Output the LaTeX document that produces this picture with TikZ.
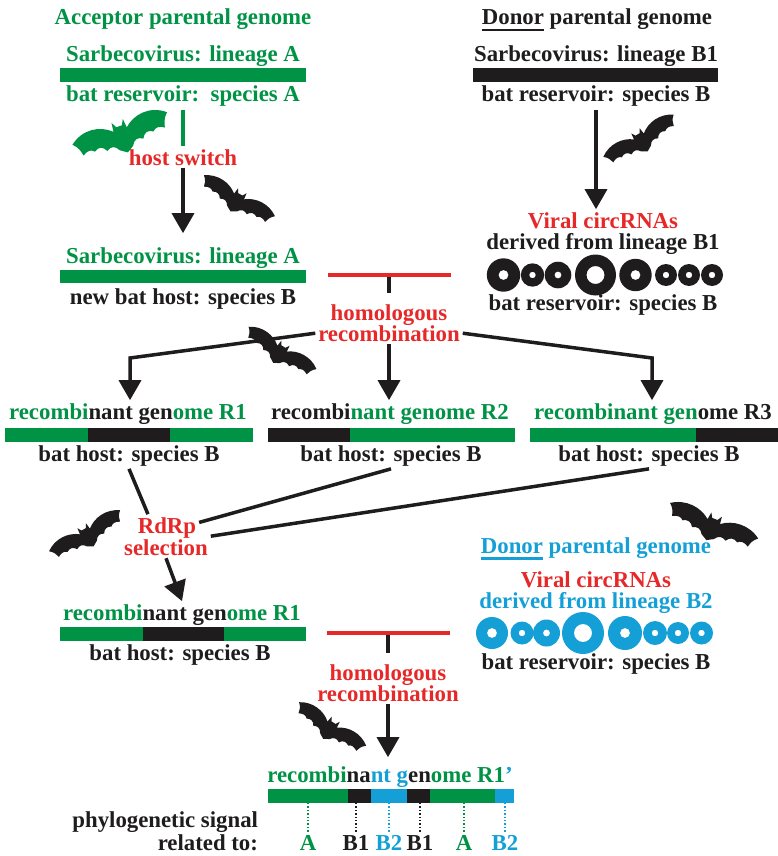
\documentclass[tikz,border=0pt]{standalone}
\usepackage{fontspec}
\setmainfont{Liberation Serif}
\usetikzlibrary{arrows.meta}
\definecolor{accgreen}{RGB}{0,146,69}
\definecolor{hrred}{RGB}{230,40,40}
\definecolor{donblue}{RGB}{20,160,214}
\definecolor{ink}{RGB}{30,28,29}
\newsavebox{\ulbox}
\newcommand{\heavyul}[1]{\sbox\ulbox{#1}\rlap{\rule[-6.5pt]{\wd\ulbox}{2.8pt}}\usebox\ulbox}
\tikzset{
    every node/.style={anchor=base,inner sep=0pt,outer sep=3pt,text=ink,font=\bfseries\fontsize{22.8}{22}\selectfont,},
    link/.style={draw=ink,line width=3.5pt,},
    arrow/.style={link,-{Triangle[width=22pt,length=20pt]},},
    cut/.style={fill=hrred,minimum width=123pt,minimum height=4pt,outer sep=0pt,anchor=center,},
    ring/.style={fill=ink,even odd rule,},
    sig/.style={line width=1.4pt,dotted,},
    bat/.pic={
        \path[pic actions] (-50,-6) .. controls (-36,-16) and (-18,-14) .. (-7,-5)
            -- (-6,-13) -- (-3,-8) -- (3,-8) -- (6,-13) -- (7,-5)
            .. controls (18,-14) and (36,-16) .. (50,-6)
            .. controls (45,-2) and (44,2) .. (43,6)
            .. controls (38,3) and (34,3) .. (31,6)
            .. controls (26,3) and (22,4) .. (19,9)
            .. controls (14,6) and (10,7) .. (7,12)
            -- (0,16) -- (-7,12)
            .. controls (-10,7) and (-14,6) .. (-19,9)
            .. controls (-22,4) and (-26,3) .. (-31,6)
            .. controls (-34,3) and (-38,3) .. (-43,6)
            .. controls (-44,2) and (-45,-2) .. (-50,-6) -- cycle;
    },
}

\begin{document}
\begin{tikzpicture}[x=1pt,y=-1pt]
        \useasboundingbox (0,0) rectangle (778,856);

        \node[text=accgreen] (acc_title) at (183,25) {Acceptor parental genome};
        \node[text=accgreen] (lin_a) at (183,62) {Sarbecovirus: lineage A};
        \fill[accgreen] (60,68) rectangle (306,82);
        \node[text=accgreen] (res_a) at (183,102) {bat reservoir:\ \ species A};
        \node[text=hrred] (host_switch) at (183,165) {host switch};
        \node[text=accgreen] (lin_a2) at (183,263) {Sarbecovirus: lineage A};
        \fill[accgreen] (60,270) rectangle (306,283);
        \node (host_b) at (183,304) {new bat host: species B};

        \draw[link,draw=accgreen] (res_a) -- (host_switch);
        \draw[arrow,shorten >=11pt] (host_switch) -- (lin_a2);
        \pic[fill=accgreen,rotate=19,yscale=1.15] (bat_acc) at (122,135) {bat};
        \pic[fill=ink,rotate=-30,scale=0.82] (bat_switch) at (237,200) {bat};

        \node (don_title) at (597,25) {\heavyul{Donor} parental genome};
        \node (lin_b1) at (596,62) {Sarbecovirus: lineage B1};
        \fill[ink] (473,68) rectangle (718,82);
        \node (res_b) at (596,102) {bat reservoir: species B};
        \node[text=hrred] (circ_b1) at (603,228) {Viral circRNAs};
        \node (der_b1) at (603,249) {derived from lineage B1};
        \fill[ring] (503.5,275) circle[radius=16.7pt] circle[radius=5pt];
        \fill[ring] (532.5,275) circle[radius=11.7pt] circle[radius=3.3pt];
        \fill[ring] (558,275) circle[radius=13.3pt] circle[radius=3.5pt];
        \fill[ring] (595.5,275) circle[radius=20.5pt] circle[radius=9pt];
        \fill[ring] (635.5,275) circle[radius=16.2pt] circle[radius=5pt];
        \fill[ring] (666,275) circle[radius=11pt] circle[radius=3.3pt];
        \fill[ring] (689,275) circle[radius=11pt] circle[radius=3.3pt];
        \fill[ring] (712,275) circle[radius=11pt] circle[radius=3.3pt];
        \node (res_b1) at (603,310) {bat reservoir: species B};

        \draw[arrow] (res_b) -- (res_b |- circ_b1.north);
        \pic[fill=ink,rotate=31,scale=0.82] (bat_donor) at (641,140) {bat};

        \node[cut] (cut1) at (389,275) {};
        \node[text=hrred] (hr1_a) at (389,320) {homologous};
        \node[text=hrred] (hr1_b) at (389,341) {recombination};
        \draw[link,shorten >=8pt] (cut1) -- (hr1_a);

        \coordinate (split_l) at (130,358);
        \coordinate (split_r) at (652,358);
        \node (rec_r1) at (128,419) {\textcolor{accgreen}{recombi}nant gen\textcolor{accgreen}{ome R1}};
        \node (rec_r2) at (390,419) {recombi\textcolor{accgreen}{nant genome R2}};
        \node (rec_r3) at (653,419) {\textcolor{accgreen}{recombinant gen}ome R3};

        \draw[arrow] (hr1_b.west) -- (split_l) -- (split_l |- rec_r1.north);
        \draw[arrow] (hr1_b) -- (hr1_b |- rec_r2.north);
        \draw[arrow] (hr1_b.east) -- (split_r) -- (split_r |- rec_r3.north);
        \pic[fill=ink,rotate=-32,scale=0.8] (bat_split) at (280,352) {bat};

        \fill[accgreen] (5,428) rectangle (88,442);
        \fill[ink] (88,428) rectangle (170,442);
        \fill[accgreen] (170,428) rectangle (253,442);
        \fill[ink] (268,428) rectangle (350,442);
        \fill[accgreen] (350,428) rectangle (515,442);
        \fill[accgreen] (530,428) rectangle (696,442);
        \fill[ink] (696,428) rectangle (778,442);

        \node (hb_r1) at (129,461) {bat host: species B};
        \node (hb_r2) at (391,461) {bat host: species B};
        \node (hb_r3) at (649,461) {bat host: species B};

        \node[text=hrred] (rdrp) at (167,533) {RdRp};
        \node[text=hrred] (sel) at (166,555) {selection};
        \draw[link] (hb_r1.south) -- (rdrp.145);
        \draw[link] (hb_r2.south) -- (rdrp.9);
        \draw[link] (hb_r3.south) -- (sel.north east);
        \pic[fill=ink,rotate=30,scale=0.82] (bat_sel) at (87,535) {bat};

        \node (rec_r1b) at (182,620) {\textcolor{accgreen}{recombi}nant gen\textcolor{accgreen}{ome R1}};
        \fill[accgreen] (60,627) rectangle (143,641);
        \fill[ink] (143,627) rectangle (224,641);
        \fill[accgreen] (224,627) rectangle (306,641);
        \node (hb_r1b) at (180,660) {bat host: species B};
        \draw[arrow] (sel.south) -- (rec_r1b.north);

        \node[text=donblue] (don2_title) at (596,553) {\heavyul{Donor} parental genome};
        \node[text=hrred] (circ_b2) at (596,587) {Viral circRNAs};
        \node[text=donblue] (der_b2) at (596,608) {derived from lineage B2};
        \fill[ring,fill=donblue] (492,633) circle[radius=16pt] circle[radius=5pt];
        \fill[ring,fill=donblue] (522,633) circle[radius=11.5pt] circle[radius=3.3pt];
        \fill[ring,fill=donblue] (546.5,633) circle[radius=13.5pt] circle[radius=3.5pt];
        \fill[ring,fill=donblue] (583,633) circle[radius=21pt] circle[radius=9pt];
        \fill[ring,fill=donblue] (625,633) circle[radius=17pt] circle[radius=5pt];
        \fill[ring,fill=donblue] (655,633) circle[radius=12pt] circle[radius=3.3pt];
        \fill[ring,fill=donblue] (678,633) circle[radius=11pt] circle[radius=3.3pt];
        \fill[ring,fill=donblue] (701.5,633) circle[radius=11.5pt] circle[radius=3.3pt];
        \node (res_b2) at (596,669) {bat reservoir: species B};
        \pic[fill=ink,rotate=-22,scale=0.95] (bat_donor2) at (712,526) {bat};

        \node[cut] (cut2) at (388,633) {};
        \node[text=hrred] (hr2_a) at (388,680) {homologous};
        \node[text=hrred] (hr2_b) at (388,701) {recombination};
        \draw[link,shorten >=8pt] (cut2) -- (hr2_a);

        \node (rec_final) at (390,782) {\textcolor{accgreen}{recombi}na\textcolor{donblue}{nt g}en\textcolor{accgreen}{ome R1}\textcolor{donblue}{'}};
        \draw[arrow,shorten >=6pt] (hr2_b) -- (hr2_b |- rec_final.north);
        \pic[fill=ink,rotate=-33,scale=0.8] (bat_final) at (330,728) {bat};

        \fill[accgreen] (268,789) rectangle (348,803);
        \fill[ink] (348,789) rectangle (371,803);
        \fill[donblue] (371,789) rectangle (407,803);
        \fill[ink] (407,789) rectangle (430,803);
        \fill[accgreen] (430,789) rectangle (495,803);
        \fill[donblue] (495,789) rectangle (514,803);
        \coordinate (final_bar) at (391,803);

        \node[anchor=base east] (phylo) at (261,827) {phylogenetic signal};
        \node[anchor=base east] (rel_to) at (261,850) {related to:};
        \node[text=accgreen] (sig_a1) at (308,850) {A};
        \node (sig_b1) at (356,850) {B1};
        \node[text=donblue] (sig_b2) at (389,850) {B2};
        \node (sig_b1b) at (420,850) {B1};
        \node[text=accgreen] (sig_a2) at (464,850) {A};
        \node[text=donblue] (sig_b2b) at (505,850) {B2};

        \draw[sig,accgreen] (sig_a1 |- final_bar) -- (sig_a1.north);
        \draw[sig,ink] (sig_b1 |- final_bar) -- (sig_b1.north);
        \draw[sig,donblue] (sig_b2 |- final_bar) -- (sig_b2.north);
        \draw[sig,ink] (sig_b1b |- final_bar) -- (sig_b1b.north);
        \draw[sig,accgreen] (sig_a2 |- final_bar) -- (sig_a2.north);
        \draw[sig,donblue] (sig_b2b |- final_bar) -- (sig_b2b.north);
    \end{tikzpicture}
\end{document}
